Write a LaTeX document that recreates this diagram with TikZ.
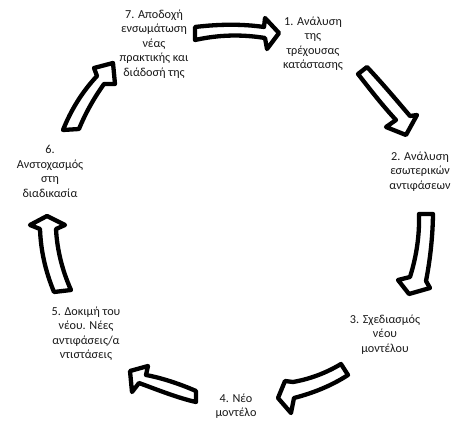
\documentclass[tikz,border=0pt]{standalone}
\usepackage{fontspec}
\setmainfont{Carlito}
\begin{document}
\begin{tikzpicture}[x=1pt,y=-1pt,
  blockarrow/.style={draw=black, fill=white, line width=4.3pt, line join=round},
  lbl/.style={align=center, inner sep=0pt, text=black!90, font=\fontsize{12.2}{14.5}\selectfont}]
\useasboundingbox[fill=white] (0,0) rectangle (457,422);
% labels
\node[lbl] (n1) at (313,43.5) {1. Ανάλυση\\της\\τρέχουσας\\κατάστασης};
\node[lbl] (n2) at (420,171.5) {2. Ανάλυση\\εσωτερικών\\αντιφάσεων};
\node[lbl] (n3) at (385,334.5) {3. Σχεδιασμός\\νέου\\μοντέλου};
\node[lbl] (n4) at (236,406) {4. Νέο\\μοντέλο};
\node[lbl] (n5) at (86,333.5) {5. Δοκιμή του\\νέου. Νέες\\αντιφάσεις/α\\ντιστάσεις};
\node[lbl] (n6) at (50,171.5) {6.\\Ανστοχασμός\\στη\\διαδικασία};
\node[lbl] (n7) at (154,44) {7. Αποδοχή\\ενσωμάτωση\\νέας\\πρακτικής και\\διάδοσή της};
% arrow 7 -> 1
\draw[blockarrow] (195,27) .. controls (220,24) and (243,24) .. (264,27) -- (265,18) -- (279,33) -- (267,49) -- (265,38) .. controls (240,34) and (218,35) .. (195,40) -- cycle;
% arrow 1 -> 2
\draw[blockarrow] (358,74) .. controls (369,88) and (382,105) .. (396,120) -- (386,127) -- (406,135) -- (417,115) -- (410,116) .. controls (398,102) and (383,84) .. (367,67) -- cycle;
% arrow 2 -> 3
\draw[blockarrow] (433,214) .. controls (432.7,236) and (430.3,259) .. (426,281) -- (430,288) -- (409,294) -- (398,280) -- (410,277) .. controls (416.6,256) and (419.6,235) .. (419,214) -- cycle;
% arrow 3 -> 4
\draw[blockarrow] (341,364) .. controls (326,373) and (310,379) .. (293,382) -- (285,381) -- (278,398) -- (291,413) -- (294,398) .. controls (313,393) and (331,386) .. (348,375) -- cycle;
% arrow 4 -> 5
\draw[blockarrow] (196,391) .. controls (180,384) and (162,378) .. (146,375) -- (148,366) -- (130,371) -- (132,392) -- (139,383) .. controls (158,390) and (178,398) .. (196,402) -- cycle;
% arrow 5 -> 6
\draw[blockarrow] (47,216) -- (65,225) -- (56,229) .. controls (57,249) and (62,270) .. (71,290) -- (54,292) .. controls (45.3,271) and (40.7,250) .. (40,229) -- (30,225) -- cycle;
% arrow 6 -> 7
\draw[blockarrow] (113,63) -- (115,84) -- (104,84) .. controls (94,98) and (85.5,113) .. (79,129) -- (63,130) .. controls (71,110) and (82,92) .. (97,76) -- (94,68) -- cycle;
\end{tikzpicture}
\end{document}
